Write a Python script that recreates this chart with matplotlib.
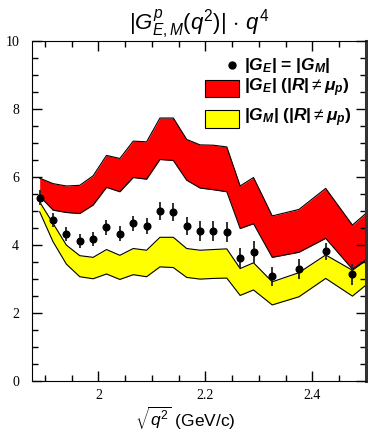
import numpy as np
import matplotlib
matplotlib.use('Agg')
import matplotlib.pyplot as plt
from matplotlib.patches import Rectangle
from matplotlib.ticker import MultipleLocator

plt.rcParams['mathtext.fontset'] = 'custom'
plt.rcParams['mathtext.rm'] = 'Liberation Sans'
plt.rcParams['mathtext.it'] = 'Liberation Sans:italic'
plt.rcParams['mathtext.bf'] = 'Liberation Sans:bold'
plt.rcParams['mathtext.bfit'] = 'Liberation Sans:italic:bold'
plt.rcParams['mathtext.sf'] = 'Liberation Sans'

# sqrt(q^2) bin centres (GeV/c)
q = [1.89, 1.915, 1.94, 1.965, 1.99, 2.015, 2.04, 2.065, 2.09, 2.115, 2.14,
     2.165, 2.19, 2.215, 2.24, 2.265, 2.29, 2.325, 2.375, 2.425, 2.475]

# |G_E| = |G_M| assumption, times q^4
g_eq = [5.39, 4.74, 4.32, 4.13, 4.18, 4.52, 4.34, 4.64, 4.57, 5.01, 4.97,
        4.56, 4.41, 4.41, 4.38, 3.63, 3.79, 3.08, 3.29, 3.82, 3.14]
g_err = [0.22, 0.20, 0.20, 0.20, 0.21, 0.22, 0.23, 0.22, 0.24, 0.26, 0.27,
         0.27, 0.29, 0.29, 0.29, 0.30, 0.33, 0.29, 0.29, 0.25, 0.30]

# band vertices (last one at the upper x limit)
q_band = q + [2.5]
ge_hi = [5.97, 5.81, 5.74, 5.76, 6.04, 6.64, 6.55, 7.06, 7.04, 7.74, 7.74,
         7.11, 6.95, 6.94, 6.89, 5.74, 5.99, 4.86, 5.05, 5.67, 4.59, 4.93]
ge_lo = [5.44, 5.03, 4.96, 4.93, 5.18, 5.70, 5.57, 5.99, 5.94, 6.52, 6.49,
         5.91, 5.68, 5.63, 5.57, 4.49, 4.63, 3.64, 3.79, 4.20, 3.29, 3.56]
gm_hi = [5.27, 4.64, 4.00, 3.69, 3.64, 3.87, 3.70, 3.90, 3.85, 4.23, 4.23,
         3.90, 3.85, 3.87, 3.89, 3.31, 3.48, 2.92, 3.19, 3.71, 3.26, 3.54]
gm_lo = [4.98, 4.10, 3.44, 3.07, 3.01, 3.15, 2.99, 3.13, 3.07, 3.36, 3.34,
         3.05, 3.00, 3.02, 3.03, 2.52, 2.68, 2.24, 2.48, 3.02, 2.50, 2.82]

fig = plt.figure(figsize=(3.68, 4.34), dpi=100)
ax = fig.add_axes([0.086, 0.122, 0.908, 0.783])

ax.fill_between(q_band, ge_lo, ge_hi, color='#ff0000', lw=0)
ax.plot(q_band, ge_hi, color='k', lw=0.8)
ax.plot(q_band, ge_lo, color='k', lw=0.8)
ax.fill_between(q_band, gm_lo, gm_hi, color='#ffff00', lw=0)
ax.plot(q_band, gm_hi, color='k', lw=0.8)
ax.plot(q_band, gm_lo, color='k', lw=0.8)

ax.errorbar(q, g_eq, yerr=g_err, fmt='o', color='k', ecolor='#222222',
            ms=4.8, elinewidth=1.3, capsize=0, zorder=5)

ax.set_xlim(1.875, 2.5)
ax.set_ylim(0, 10)
ax.xaxis.set_major_locator(MultipleLocator(0.2))
ax.xaxis.set_minor_locator(MultipleLocator(0.05))
ax.yaxis.set_major_locator(MultipleLocator(2))
ax.yaxis.set_minor_locator(MultipleLocator(0.5))
ax.tick_params(which='both', direction='in', top=True, right=True)
ax.tick_params(which='major', length=7, width=1)
ax.tick_params(which='minor', length=4, width=1)
ax.tick_params(axis='x', pad=6)
ax.tick_params(axis='y', pad=9)
ax.set_xticklabels([f'{v:g}' for v in ax.get_xticks()])
for lab in ax.get_xticklabels() + ax.get_yticklabels():
    lab.set_family('Liberation Serif')
    lab.set_fontsize(10)
ax.spines['right'].set_linewidth(2.2)
ax.spines['right'].set_color('#333333')

ax.set_title(r'$|G^{p}_{E,M}(q^2)|\,\cdot\,q^4$', fontsize=16, pad=7)
ax.set_xlabel(r'$\sqrt{q^2}$ (GeV/c)', fontsize=12.5, family='Liberation Sans')
ax.xaxis.set_label_coords(0.46, -0.07)

# key
tr = ax.transAxes
ax.plot([0.600], [0.929], 'o', color='k', ms=5, transform=tr)
ax.add_patch(Rectangle((0.519, 0.836), 0.103, 0.049, transform=tr,
                       facecolor='#ff0000', edgecolor='k', lw=0.8))
ax.add_patch(Rectangle((0.519, 0.746), 0.103, 0.051, transform=tr,
                       facecolor='#ffff00', edgecolor='k', lw=0.8))
kw = dict(transform=tr, fontsize=12.5, family='Liberation Sans',
          fontweight='bold', va='center', ha='left')
ax.text(0.636, 0.929, r'|$\mathbfit{G_E}$| = |$\mathbfit{G_M}$|', **kw)
ax.text(0.636, 0.862, r'|$\mathbfit{G_E}$| (|$\mathbfit{R}$|$\neq\mathbfit{\mu_p}$)', **kw)
ax.text(0.636, 0.774, r'|$\mathbfit{G_M}$| (|$\mathbfit{R}$|$\neq\mathbfit{\mu_p}$)', **kw)

fig.savefig('out.png', dpi=100)
